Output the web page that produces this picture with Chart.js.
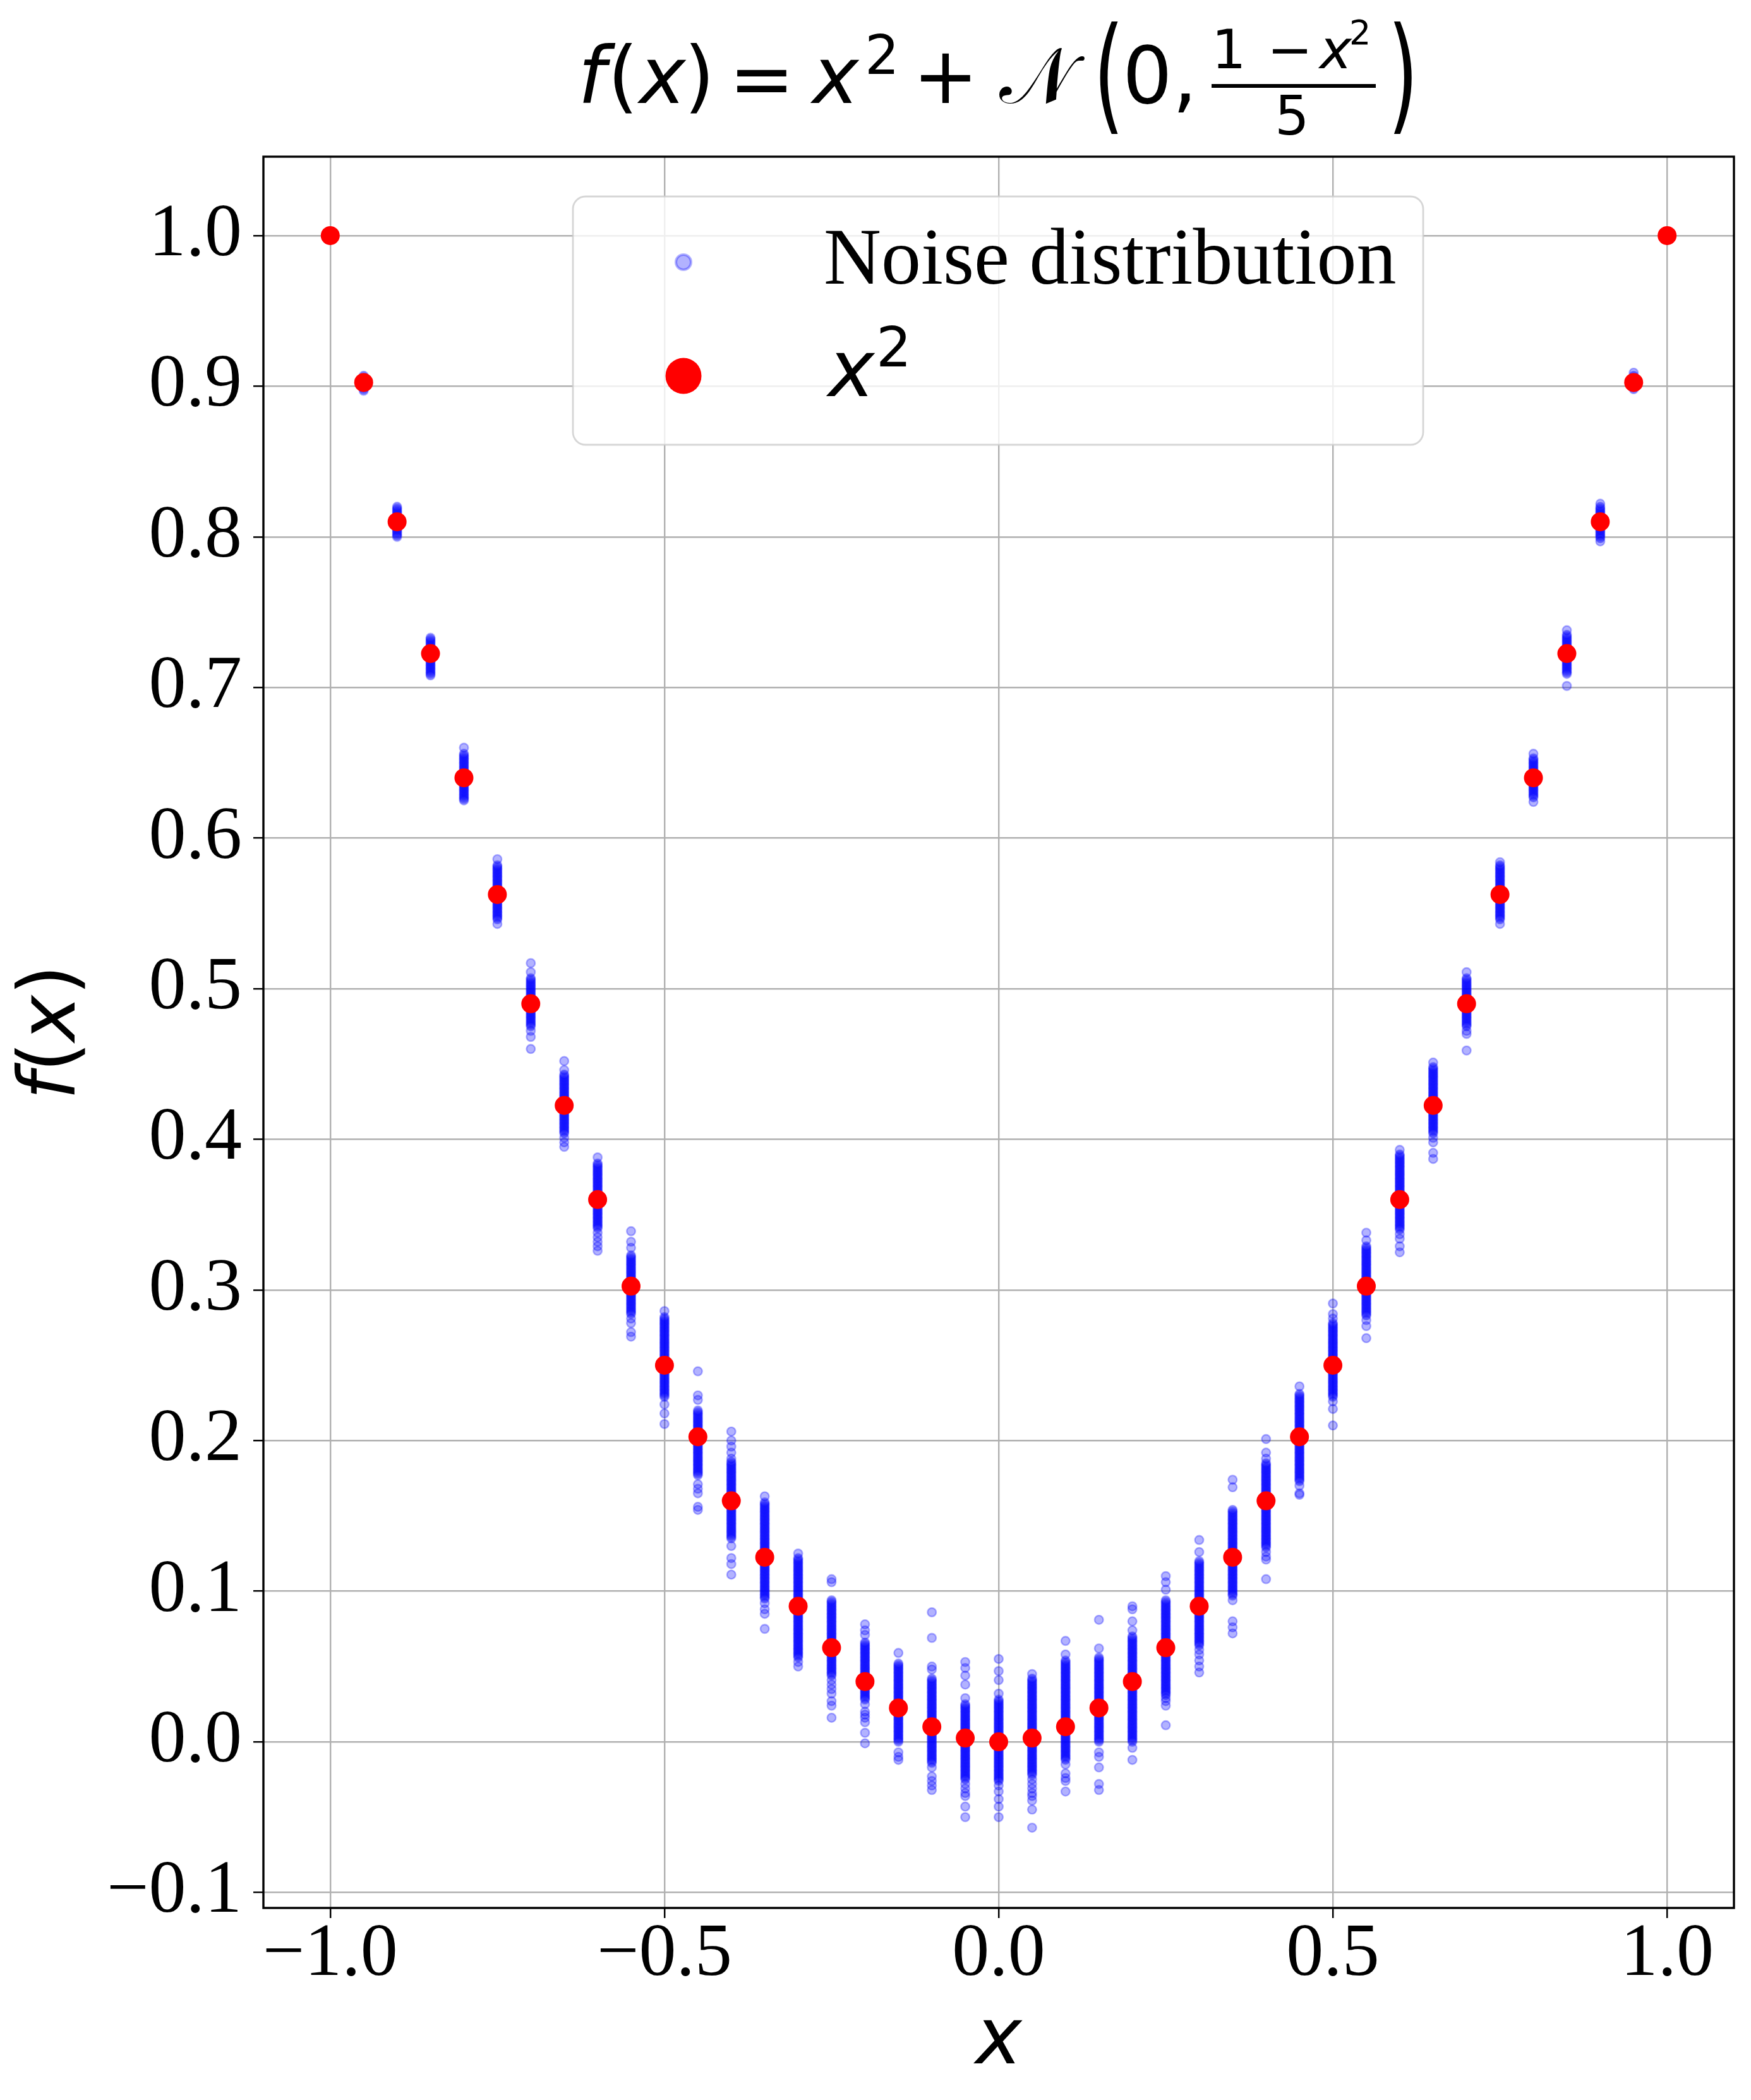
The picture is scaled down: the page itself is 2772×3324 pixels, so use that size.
<!DOCTYPE html>
<html>
<head>
<meta charset="utf-8">
<title>f(x) = x² + N(0, (1 − x²)/5)</title>
<script src="https://cdn.jsdelivr.net/npm/chart.js@4.4.0/dist/chart.umd.min.js"></script>
<style>
  html, body { margin: 0; padding: 0; background: #fff; }
  #wrap { width: 2772px; height: 3324px; }
</style>
</head>
<body>
<div id="wrap"><canvas id="noiseChart" width="2772" height="3324"></canvas></div>
<script>
// ===============================
//  DATA
// ===============================
const xValues = [
    -1.00, -0.95, -0.90, -0.85, -0.80, -0.75, -0.70, -0.65, -0.60, -0.55, -0.50,
    -0.45, -0.40, -0.35, -0.30, -0.25, -0.20, -0.15, -0.10, -0.05, 0.00,
    0.05, 0.10, 0.15, 0.20, 0.25, 0.30, 0.35, 0.40, 0.45, 0.50,
    0.55, 0.60, 0.65, 0.70, 0.75, 0.80, 0.85, 0.90, 0.95, 1.00
];

const xSquared = [
    1.0, 0.9025, 0.81, 0.7225, 0.64, 0.5625, 0.49, 0.4225, 0.36, 0.3025, 0.25,
    0.2025, 0.16, 0.1225, 0.09, 0.0625, 0.04, 0.0225, 0.01, 0.0025, 0.0,
    0.0025, 0.01, 0.0225, 0.04, 0.0625, 0.09, 0.1225, 0.16, 0.2025, 0.25,
    0.3025, 0.36, 0.4225, 0.49, 0.5625, 0.64, 0.7225, 0.81, 0.9025, 1.0
];

// noise samples (same order as xValues)
const noiseByColumn = [
    // -1.00
    [1.0, 1.0, 1.0],
    // -0.95
    [0.907, 0.906, 0.905, 0.904, 0.903, 0.902, 0.901, 0.900, 0.899, 0.898, 0.897],
    // -0.90
    [0.820, 0.819, 0.818, 0.817, 0.816, 0.815, 0.814, 0.813, 0.812, 0.811,
     0.810, 0.809, 0.808, 0.807, 0.806, 0.805, 0.804, 0.803, 0.802, 0.801, 0.800],
    // -0.85
    [0.733, 0.732, 0.731, 0.730, 0.729, 0.728, 0.727, 0.726, 0.725, 0.724,
     0.723, 0.722, 0.721, 0.720, 0.719, 0.718, 0.717, 0.716, 0.715, 0.714,
     0.713, 0.712, 0.711, 0.710, 0.709, 0.708],
    // -0.80
    [0.660, 0.656, 0.655, 0.654, 0.653, 0.652, 0.651, 0.650, 0.649, 0.648,
     0.647, 0.646, 0.645, 0.644, 0.643, 0.642, 0.641, 0.640, 0.639, 0.638,
     0.637, 0.636, 0.635, 0.634, 0.633, 0.632, 0.631, 0.630, 0.629, 0.628,
     0.627, 0.626, 0.625],
    // -0.75
    [0.586, 0.582, 0.581, 0.580, 0.579, 0.578, 0.577, 0.576, 0.575, 0.574,
     0.573, 0.572, 0.571, 0.570, 0.569, 0.568, 0.567, 0.566, 0.565, 0.564,
     0.563, 0.562, 0.561, 0.560, 0.559, 0.558, 0.557, 0.556, 0.555, 0.554,
     0.553, 0.552, 0.551, 0.550, 0.549, 0.548, 0.547, 0.546, 0.543],
    // -0.70
    [0.517, 0.511, 0.507, 0.506, 0.505, 0.504, 0.503, 0.502, 0.501, 0.500,
     0.499, 0.498, 0.497, 0.496, 0.495, 0.494, 0.493, 0.492, 0.491, 0.490,
     0.489, 0.488, 0.487, 0.486, 0.485, 0.484, 0.483, 0.482, 0.481, 0.480,
     0.479, 0.478, 0.477, 0.476, 0.475, 0.472, 0.468, 0.460],
    // -0.65
    [0.452, 0.446, 0.443, 0.442, 0.441, 0.440, 0.439, 0.438, 0.437, 0.436,
     0.435, 0.434, 0.433, 0.432, 0.431, 0.430, 0.429, 0.428, 0.427, 0.426,
     0.425, 0.424, 0.423, 0.422, 0.421, 0.420, 0.419, 0.418, 0.417, 0.416,
     0.415, 0.414, 0.413, 0.412, 0.411, 0.410, 0.409, 0.408, 0.407, 0.406,
     0.405, 0.404, 0.401, 0.398, 0.395],
    // -0.60
    [0.388, 0.384, 0.383, 0.382, 0.381, 0.380, 0.379, 0.378, 0.377, 0.376,
     0.375, 0.374, 0.373, 0.372, 0.371, 0.370, 0.369, 0.368, 0.367, 0.366,
     0.365, 0.364, 0.363, 0.362, 0.361, 0.360, 0.359, 0.358, 0.357, 0.356,
     0.355, 0.354, 0.353, 0.352, 0.351, 0.350, 0.349, 0.348, 0.347, 0.346,
     0.345, 0.344, 0.343, 0.342, 0.341, 0.338, 0.335, 0.332, 0.329, 0.326],
    // -0.55
    [0.339, 0.332, 0.328, 0.323, 0.322, 0.321, 0.320, 0.319, 0.318, 0.317,
     0.316, 0.315, 0.314, 0.313, 0.312, 0.311, 0.310, 0.309, 0.308, 0.307,
     0.306, 0.305, 0.304, 0.303, 0.302, 0.301, 0.300, 0.299, 0.298, 0.297,
     0.296, 0.295, 0.294, 0.293, 0.292, 0.291, 0.290, 0.289, 0.288, 0.287,
     0.286, 0.285, 0.284, 0.281, 0.278, 0.272, 0.269],
    // -0.50
    [0.286, 0.282, 0.281, 0.280, 0.279, 0.278, 0.277, 0.276, 0.275, 0.274,
     0.273, 0.272, 0.271, 0.270, 0.269, 0.268, 0.267, 0.266, 0.265, 0.264,
     0.263, 0.262, 0.261, 0.260, 0.259, 0.258, 0.257, 0.256, 0.255, 0.254,
     0.253, 0.252, 0.251, 0.250, 0.249, 0.248, 0.247, 0.246, 0.245, 0.244,
     0.243, 0.242, 0.241, 0.240, 0.239, 0.238, 0.237, 0.236, 0.235, 0.234,
     0.233, 0.232, 0.231, 0.230, 0.229, 0.224, 0.218, 0.211],
    // -0.45
    [0.246, 0.230, 0.227, 0.220, 0.219, 0.218, 0.217, 0.216, 0.215, 0.214,
     0.213, 0.212, 0.211, 0.210, 0.209, 0.208, 0.207, 0.206, 0.205, 0.204,
     0.203, 0.202, 0.201, 0.200, 0.199, 0.198, 0.197, 0.196, 0.195, 0.194,
     0.193, 0.192, 0.191, 0.190, 0.189, 0.188, 0.187, 0.186, 0.185, 0.184,
     0.183, 0.182, 0.181, 0.180, 0.179, 0.178, 0.177, 0.171, 0.168, 0.165,
     0.156, 0.154],
    // -0.40
    [0.206, 0.200, 0.196, 0.192, 0.188, 0.186, 0.185, 0.184, 0.183, 0.182,
     0.181, 0.180, 0.179, 0.178, 0.177, 0.176, 0.175, 0.174, 0.173, 0.172,
     0.171, 0.170, 0.169, 0.168, 0.167, 0.166, 0.165, 0.164, 0.163, 0.162,
     0.161, 0.160, 0.159, 0.158, 0.157, 0.156, 0.155, 0.154, 0.153, 0.152,
     0.151, 0.150, 0.149, 0.148, 0.147, 0.146, 0.145, 0.144, 0.143, 0.142,
     0.141, 0.140, 0.139, 0.138, 0.137, 0.136, 0.135, 0.130, 0.122, 0.118,
     0.111],
    // -0.35
    [0.163, 0.159, 0.158, 0.157, 0.156, 0.155, 0.154, 0.153, 0.152, 0.151,
     0.150, 0.149, 0.148, 0.147, 0.146, 0.145, 0.144, 0.143, 0.142, 0.141,
     0.140, 0.139, 0.138, 0.137, 0.136, 0.135, 0.134, 0.133, 0.132, 0.131,
     0.130, 0.129, 0.128, 0.127, 0.126, 0.125, 0.124, 0.123, 0.122, 0.121,
     0.120, 0.119, 0.118, 0.117, 0.116, 0.115, 0.114, 0.113, 0.112, 0.111,
     0.110, 0.109, 0.108, 0.107, 0.106, 0.105, 0.104, 0.103, 0.102, 0.101,
     0.100, 0.099, 0.098, 0.097, 0.096, 0.095, 0.092, 0.088, 0.085, 0.075],
    // -0.30
    [0.125, 0.122, 0.121, 0.120, 0.119, 0.118, 0.117, 0.116, 0.115, 0.114,
     0.113, 0.112, 0.111, 0.110, 0.109, 0.108, 0.107, 0.106, 0.105, 0.104,
     0.103, 0.102, 0.101, 0.100, 0.099, 0.098, 0.097, 0.096, 0.095, 0.094,
     0.093, 0.092, 0.091, 0.090, 0.089, 0.088, 0.087, 0.086, 0.085, 0.084,
     0.083, 0.082, 0.081, 0.080, 0.079, 0.078, 0.077, 0.076, 0.075, 0.074,
     0.073, 0.072, 0.071, 0.070, 0.069, 0.068, 0.067, 0.066, 0.065, 0.064,
     0.063, 0.062, 0.061, 0.060, 0.059, 0.058, 0.057, 0.056, 0.053, 0.050],
    // -0.25
    [0.108, 0.106, 0.094, 0.093, 0.092, 0.091, 0.090, 0.089, 0.088, 0.087,
     0.086, 0.085, 0.084, 0.083, 0.082, 0.081, 0.080, 0.079, 0.078, 0.077,
     0.076, 0.075, 0.074, 0.073, 0.072, 0.071, 0.070, 0.069, 0.068, 0.067,
     0.066, 0.065, 0.064, 0.063, 0.062, 0.061, 0.060, 0.059, 0.058, 0.057,
     0.056, 0.055, 0.054, 0.053, 0.052, 0.051, 0.050, 0.049, 0.048, 0.047,
     0.046, 0.045, 0.044, 0.041, 0.038, 0.035, 0.032, 0.027, 0.024, 0.016],
    // -0.20
    [0.078, 0.074, 0.071, 0.066, 0.065, 0.064, 0.063, 0.062, 0.061, 0.060,
     0.059, 0.058, 0.057, 0.056, 0.055, 0.054, 0.053, 0.052, 0.051, 0.050,
     0.049, 0.048, 0.047, 0.046, 0.045, 0.044, 0.043, 0.042, 0.041, 0.040,
     0.039, 0.038, 0.037, 0.036, 0.035, 0.034, 0.033, 0.032, 0.031, 0.030,
     0.029, 0.028, 0.025, 0.020, 0.018, 0.016, 0.013, 0.006, -0.001],
    // -0.15
    [0.059, 0.052, 0.051, 0.050, 0.049, 0.048, 0.047, 0.046, 0.045, 0.044,
     0.043, 0.042, 0.041, 0.040, 0.039, 0.038, 0.037, 0.036, 0.035, 0.034,
     0.033, 0.032, 0.031, 0.030, 0.029, 0.028, 0.027, 0.026, 0.025, 0.024,
     0.023, 0.022, 0.021, 0.020, 0.019, 0.018, 0.017, 0.016, 0.015, 0.014,
     0.013, 0.012, 0.011, 0.010, 0.009, 0.008, 0.007, 0.006, 0.005, 0.004,
     0.003, 0.002, 0.001, 0.000, -0.007, -0.010, -0.012],
    // -0.10
    [0.086, 0.069, 0.050, 0.048, 0.042, 0.041, 0.040, 0.039, 0.038, 0.037,
     0.036, 0.035, 0.034, 0.033, 0.032, 0.031, 0.030, 0.029, 0.028, 0.027,
     0.026, 0.025, 0.024, 0.023, 0.022, 0.021, 0.020, 0.019, 0.018, 0.017,
     0.016, 0.015, 0.014, 0.013, 0.012, 0.011, 0.010, 0.009, 0.008, 0.007,
     0.006, 0.005, 0.004, 0.003, 0.002, 0.001, 0.000, -0.001, -0.002, -0.003,
     -0.004, -0.005, -0.006, -0.007, -0.008, -0.009, -0.010, -0.011, -0.012, -0.013,
     -0.014, -0.017, -0.023, -0.026, -0.029, -0.032],
    // -0.05
    [0.053, 0.049, 0.044, 0.038, 0.029, 0.025, 0.024, 0.023, 0.022, 0.021,
     0.020, 0.019, 0.018, 0.017, 0.016, 0.015, 0.014, 0.013, 0.012, 0.011,
     0.010, 0.009, 0.008, 0.007, 0.006, 0.005, 0.004, 0.003, 0.002, 0.001,
     0.000, -0.001, -0.002, -0.003, -0.004, -0.005, -0.006, -0.007, -0.008, -0.009,
     -0.010, -0.011, -0.012, -0.013, -0.014, -0.015, -0.016, -0.017, -0.018, -0.019,
     -0.020, -0.021, -0.022, -0.023, -0.024, -0.025, -0.028, -0.031, -0.034, -0.036,
     -0.043, -0.050],
    // 0.00
    [0.055, 0.047, 0.041, 0.032, 0.028, 0.027, 0.026, 0.025, 0.024, 0.023,
     0.022, 0.021, 0.020, 0.019, 0.018, 0.017, 0.016, 0.015, 0.014, 0.013,
     0.012, 0.011, 0.010, 0.009, 0.008, 0.007, 0.006, 0.005, 0.004, 0.003,
     0.002, 0.001, 0.000, -0.001, -0.002, -0.003, -0.004, -0.005, -0.006, -0.007,
     -0.008, -0.009, -0.010, -0.011, -0.012, -0.013, -0.014, -0.015, -0.016, -0.017,
     -0.018, -0.019, -0.020, -0.021, -0.022, -0.023, -0.024, -0.025, -0.026, -0.029,
     -0.033, -0.038, -0.043, -0.050],
    // 0.05
    [0.045, 0.042, 0.041, 0.040, 0.039, 0.038, 0.037, 0.036, 0.035, 0.034,
     0.033, 0.032, 0.031, 0.030, 0.029, 0.028, 0.027, 0.026, 0.025, 0.024,
     0.023, 0.022, 0.021, 0.020, 0.019, 0.018, 0.017, 0.016, 0.015, 0.014,
     0.013, 0.012, 0.011, 0.010, 0.009, 0.008, 0.007, 0.006, 0.005, 0.004,
     0.003, 0.002, 0.001, 0.000, -0.001, -0.002, -0.003, -0.004, -0.005, -0.006,
     -0.007, -0.008, -0.009, -0.010, -0.011, -0.012, -0.013, -0.014, -0.015, -0.016,
     -0.017, -0.018, -0.019, -0.020, -0.021, -0.022, -0.025, -0.028, -0.031, -0.034,
     -0.036, -0.039, -0.045, -0.057],
    // 0.10
    [0.067, 0.058, 0.054, 0.053, 0.052, 0.051, 0.050, 0.049, 0.048, 0.047,
     0.046, 0.045, 0.044, 0.043, 0.042, 0.041, 0.040, 0.039, 0.038, 0.037,
     0.036, 0.035, 0.034, 0.033, 0.032, 0.031, 0.030, 0.029, 0.028, 0.027,
     0.026, 0.025, 0.024, 0.023, 0.022, 0.021, 0.020, 0.019, 0.018, 0.017,
     0.016, 0.015, 0.014, 0.013, 0.012, 0.011, 0.010, 0.009, 0.008, 0.007,
     0.006, 0.005, 0.004, 0.003, 0.002, 0.001, 0.000, -0.001, -0.002, -0.003,
     -0.004, -0.005, -0.006, -0.007, -0.008, -0.009, -0.010, -0.011, -0.012, -0.015,
     -0.021, -0.024, -0.026, -0.033],
    // 0.15
    [0.081, 0.062, 0.056, 0.055, 0.054, 0.053, 0.052, 0.051, 0.050, 0.049,
     0.048, 0.047, 0.046, 0.045, 0.044, 0.043, 0.042, 0.041, 0.040, 0.039,
     0.038, 0.037, 0.036, 0.035, 0.034, 0.033, 0.032, 0.031, 0.030, 0.029,
     0.028, 0.027, 0.026, 0.025, 0.024, 0.023, 0.022, 0.021, 0.020, 0.019,
     0.018, 0.017, 0.016, 0.015, 0.014, 0.013, 0.012, 0.011, 0.010, 0.009,
     0.008, 0.007, 0.006, 0.005, 0.004, 0.003, 0.002, 0.001, 0.000, -0.007,
     -0.010, -0.017, -0.028, -0.032],
    // 0.20
    [0.090, 0.088, 0.080, 0.074, 0.070, 0.069, 0.068, 0.067, 0.066, 0.065,
     0.064, 0.063, 0.062, 0.061, 0.060, 0.059, 0.058, 0.057, 0.056, 0.055,
     0.054, 0.053, 0.052, 0.051, 0.050, 0.049, 0.048, 0.047, 0.046, 0.045,
     0.044, 0.043, 0.042, 0.041, 0.040, 0.039, 0.038, 0.037, 0.036, 0.035,
     0.034, 0.033, 0.032, 0.031, 0.030, 0.029, 0.028, 0.027, 0.026, 0.025,
     0.024, 0.023, 0.022, 0.021, 0.020, 0.019, 0.018, 0.017, 0.016, 0.015,
     0.014, 0.013, 0.012, 0.011, 0.010, 0.009, 0.008, 0.007, 0.006, 0.005,
     0.004, 0.003, 0.002, 0.001, 0.000, -0.004, -0.012],
    // 0.25
    [0.110, 0.106, 0.101, 0.094, 0.093, 0.092, 0.091, 0.090, 0.089, 0.088,
     0.087, 0.086, 0.085, 0.084, 0.083, 0.082, 0.081, 0.080, 0.079, 0.078,
     0.077, 0.076, 0.075, 0.074, 0.073, 0.072, 0.071, 0.070, 0.069, 0.068,
     0.067, 0.066, 0.065, 0.064, 0.063, 0.062, 0.061, 0.060, 0.059, 0.058,
     0.057, 0.056, 0.055, 0.054, 0.053, 0.052, 0.051, 0.050, 0.049, 0.048,
     0.047, 0.046, 0.045, 0.044, 0.043, 0.042, 0.041, 0.040, 0.039, 0.038,
     0.037, 0.036, 0.035, 0.034, 0.033, 0.032, 0.031, 0.029, 0.027, 0.024,
     0.011],
    // 0.30
    [0.134, 0.126, 0.120, 0.119, 0.118, 0.117, 0.116, 0.115, 0.114, 0.113,
     0.112, 0.111, 0.110, 0.109, 0.108, 0.107, 0.106, 0.105, 0.104, 0.103,
     0.102, 0.101, 0.100, 0.099, 0.098, 0.097, 0.096, 0.095, 0.094, 0.093,
     0.092, 0.091, 0.090, 0.089, 0.088, 0.087, 0.086, 0.085, 0.084, 0.083,
     0.082, 0.081, 0.080, 0.079, 0.078, 0.077, 0.076, 0.075, 0.074, 0.073,
     0.072, 0.071, 0.070, 0.069, 0.068, 0.067, 0.066, 0.065, 0.064, 0.061,
     0.058, 0.054, 0.050, 0.046],
    // 0.35
    [0.174, 0.169, 0.154, 0.153, 0.152, 0.151, 0.150, 0.149, 0.148, 0.147,
     0.146, 0.145, 0.144, 0.143, 0.142, 0.141, 0.140, 0.139, 0.138, 0.137,
     0.136, 0.135, 0.134, 0.133, 0.132, 0.131, 0.130, 0.129, 0.128, 0.127,
     0.126, 0.125, 0.124, 0.123, 0.122, 0.121, 0.120, 0.119, 0.118, 0.117,
     0.116, 0.115, 0.114, 0.113, 0.112, 0.111, 0.110, 0.109, 0.108, 0.107,
     0.106, 0.105, 0.104, 0.103, 0.102, 0.101, 0.100, 0.099, 0.098, 0.097,
     0.094, 0.080, 0.076, 0.072],
    // 0.40
    [0.201, 0.192, 0.188, 0.185, 0.184, 0.183, 0.182, 0.181, 0.180, 0.179,
     0.178, 0.177, 0.176, 0.175, 0.174, 0.173, 0.172, 0.171, 0.170, 0.169,
     0.168, 0.167, 0.166, 0.165, 0.164, 0.163, 0.162, 0.161, 0.160, 0.159,
     0.158, 0.157, 0.156, 0.155, 0.154, 0.153, 0.152, 0.151, 0.150, 0.149,
     0.148, 0.147, 0.146, 0.145, 0.144, 0.143, 0.142, 0.141, 0.140, 0.139,
     0.138, 0.137, 0.136, 0.135, 0.134, 0.133, 0.132, 0.131, 0.130, 0.129,
     0.126, 0.123, 0.121, 0.108],
    // 0.45
    [0.236, 0.231, 0.230, 0.229, 0.228, 0.227, 0.226, 0.225, 0.224, 0.223,
     0.222, 0.221, 0.220, 0.219, 0.218, 0.217, 0.216, 0.215, 0.214, 0.213,
     0.212, 0.211, 0.210, 0.209, 0.208, 0.207, 0.206, 0.205, 0.204, 0.203,
     0.202, 0.201, 0.200, 0.199, 0.198, 0.197, 0.196, 0.195, 0.194, 0.193,
     0.192, 0.191, 0.190, 0.189, 0.188, 0.187, 0.186, 0.185, 0.184, 0.183,
     0.182, 0.181, 0.180, 0.179, 0.178, 0.177, 0.176, 0.175, 0.174, 0.173,
     0.170, 0.165, 0.164],
    // 0.50
    [0.291, 0.284, 0.281, 0.278, 0.277, 0.276, 0.275, 0.274, 0.273, 0.272,
     0.271, 0.270, 0.269, 0.268, 0.267, 0.266, 0.265, 0.264, 0.263, 0.262,
     0.261, 0.260, 0.259, 0.258, 0.257, 0.256, 0.255, 0.254, 0.253, 0.252,
     0.251, 0.250, 0.249, 0.248, 0.247, 0.246, 0.245, 0.244, 0.243, 0.242,
     0.241, 0.240, 0.239, 0.238, 0.237, 0.236, 0.235, 0.234, 0.233, 0.232,
     0.231, 0.230, 0.229, 0.226, 0.221, 0.210],
    // 0.55
    [0.338, 0.333, 0.329, 0.328, 0.327, 0.326, 0.325, 0.324, 0.323, 0.322,
     0.321, 0.320, 0.319, 0.318, 0.317, 0.316, 0.315, 0.314, 0.313, 0.312,
     0.311, 0.310, 0.309, 0.308, 0.307, 0.306, 0.305, 0.304, 0.303, 0.302,
     0.301, 0.300, 0.299, 0.298, 0.297, 0.296, 0.295, 0.294, 0.293, 0.292,
     0.291, 0.290, 0.289, 0.288, 0.287, 0.286, 0.285, 0.284, 0.283, 0.280,
     0.276, 0.268],
    // 0.60
    [0.393, 0.390, 0.389, 0.388, 0.387, 0.386, 0.385, 0.384, 0.383, 0.382,
     0.381, 0.380, 0.379, 0.378, 0.377, 0.376, 0.375, 0.374, 0.373, 0.372,
     0.371, 0.370, 0.369, 0.368, 0.367, 0.366, 0.365, 0.364, 0.363, 0.362,
     0.361, 0.360, 0.359, 0.358, 0.357, 0.356, 0.355, 0.354, 0.353, 0.352,
     0.351, 0.350, 0.349, 0.348, 0.347, 0.346, 0.345, 0.344, 0.343, 0.342,
     0.341, 0.340, 0.337, 0.334, 0.329, 0.325],
    // 0.65
    [0.451, 0.448, 0.447, 0.446, 0.445, 0.444, 0.443, 0.442, 0.441, 0.440,
     0.439, 0.438, 0.437, 0.436, 0.435, 0.434, 0.433, 0.432, 0.431, 0.430,
     0.429, 0.428, 0.427, 0.426, 0.425, 0.424, 0.423, 0.422, 0.421, 0.420,
     0.419, 0.418, 0.417, 0.416, 0.415, 0.414, 0.413, 0.412, 0.411, 0.410,
     0.409, 0.408, 0.407, 0.406, 0.405, 0.404, 0.401, 0.398, 0.391, 0.387],
    // 0.70
    [0.511, 0.507, 0.506, 0.505, 0.504, 0.503, 0.502, 0.501, 0.500, 0.499,
     0.498, 0.497, 0.496, 0.495, 0.494, 0.493, 0.492, 0.491, 0.490, 0.489,
     0.488, 0.487, 0.486, 0.485, 0.484, 0.483, 0.482, 0.481, 0.480, 0.479,
     0.478, 0.477, 0.476, 0.475, 0.472, 0.470, 0.459],
    // 0.75
    [0.584, 0.582, 0.581, 0.580, 0.579, 0.578, 0.577, 0.576, 0.575, 0.574,
     0.573, 0.572, 0.571, 0.570, 0.569, 0.568, 0.567, 0.566, 0.565, 0.564,
     0.563, 0.562, 0.561, 0.560, 0.559, 0.558, 0.557, 0.556, 0.555, 0.554,
     0.553, 0.552, 0.551, 0.550, 0.549, 0.548, 0.547, 0.546, 0.543],
    // 0.80
    [0.656, 0.653, 0.652, 0.651, 0.650, 0.649, 0.648, 0.647, 0.646, 0.645,
     0.644, 0.643, 0.642, 0.641, 0.640, 0.639, 0.638, 0.637, 0.636, 0.635,
     0.634, 0.633, 0.632, 0.631, 0.630, 0.629, 0.628, 0.627, 0.624],
    // 0.85
    [0.738, 0.735, 0.734, 0.733, 0.732, 0.731, 0.730, 0.729, 0.728, 0.727,
     0.726, 0.725, 0.724, 0.723, 0.722, 0.721, 0.720, 0.719, 0.718, 0.717,
     0.716, 0.715, 0.714, 0.713, 0.712, 0.711, 0.710, 0.709, 0.701],
    // 0.90
    [0.822, 0.820, 0.819, 0.818, 0.817, 0.816, 0.815, 0.814, 0.813, 0.812,
     0.811, 0.810, 0.809, 0.808, 0.807, 0.806, 0.805, 0.804, 0.803, 0.802,
     0.801, 0.800, 0.799, 0.797],
    // 0.95
    [0.909, 0.907, 0.906, 0.905, 0.904, 0.903, 0.902, 0.901, 0.900, 0.899, 0.898],
    // 1.00
    [1.0, 1.0, 1.0]
];

const xTicks = [-1.0, -0.5, 0.0, 0.5, 1.0];
const xTickLabels = ["\u22121.0", "\u22120.5", "0.0", "0.5", "1.0"];
const yTicks = [-0.1, 0.0, 0.1, 0.2, 0.3, 0.4, 0.5, 0.6, 0.7, 0.8, 0.9, 1.0];
const yTickLabels = ["\u22120.1", "0.0", "0.1", "0.2", "0.3", "0.4", "0.5", "0.6", "0.7", "0.8", "0.9", "1.0"];

const legendLabels = ["Noise distribution", "x2"];

// ===============================
//  FONTS / COLOURS
// ===============================
const SERIF = "'Liberation Serif', 'Times New Roman', serif";
const MATH = "'DejaVu Sans', sans-serif";
const NOISE_COLOUR = "rgba(0, 0, 255, 0.3)";
const SQUARE_COLOUR = "#ff0000";

// ===============================
//  TEXT HELPERS
// ===============================
function inkText(ctx, text, font, inkLeft, baseline) {
    ctx.font = font;
    const m = ctx.measureText(text);
    ctx.fillText(text, inkLeft + m.actualBoundingBoxLeft, baseline);
}

function tallParen(ctx, ch, inkLeft, top, bottom) {
    ctx.font = "124px " + MATH;
    const m = ctx.measureText(ch);
    const s = (bottom - top) / (m.actualBoundingBoxAscent + m.actualBoundingBoxDescent);
    ctx.save();
    ctx.translate(inkLeft + m.actualBoundingBoxLeft, top + m.actualBoundingBoxAscent * s);
    ctx.scale(1, s);
    ctx.fillText(ch, 0, 0);
    ctx.restore();
}

function drawTitle(ctx) {
    const it = "italic 124px " + MATH;
    const up = "124px " + MATH;
    const sm = "86px " + MATH;
    const smIt = "italic 86px " + MATH;
    const base = 163;

    inkText(ctx, "f", it, 923, base);
    inkText(ctx, "(", up, 972, base);
    inkText(ctx, "x", it, 1008, base);
    inkText(ctx, ")", up, 1092, base);
    inkText(ctx, "=", up, 1167, base + 4);
    inkText(ctx, "x", it, 1282, base);
    inkText(ctx, "2", sm, 1375, 117);
    inkText(ctx, "+", up, 1458, base);
    inkText(ctx, "\u{1D4A9}", up, 1582, base);
    tallParen(ctx, "(", 1741, 32, 213);
    inkText(ctx, "0", up, 1785, base);
    inkText(ctx, ",", up, 1865, base);

    // fraction (1 - x^2) / 5
    inkText(ctx, "1", sm, 1927, 108);
    inkText(ctx, "\u2212", sm, 2015, 108);
    inkText(ctx, "x", smIt, 2086, 108);
    inkText(ctx, "2", "54px " + MATH, 2139, 70);
    ctx.fillRect(1918, 133, 260, 6);
    inkText(ctx, "5", sm, 2024, 213);
    tallParen(ctx, ")", 2206, 32, 213);
}

function drawAxisLabels(ctx, area) {
    // x label
    ctx.font = "italic 124px " + MATH;
    ctx.textAlign = "center";
    ctx.fillText("x", (area.left + area.right) / 2, 3266);
    ctx.textAlign = "left";

    // y label, rotated
    const parts = [["f", "italic 124px " + MATH], ["(", "124px " + MATH], ["x", "italic 124px " + MATH], [")", "124px " + MATH]];
    let total = 0;
    parts.forEach(p => { ctx.font = p[1]; total += ctx.measureText(p[0]).width; });
    ctx.save();
    ctx.translate(118, (area.top + area.bottom) / 2);
    ctx.rotate(-Math.PI / 2);
    let cx = -total / 2;
    parts.forEach(p => {
        ctx.font = p[1];
        ctx.fillText(p[0], cx, 0);
        cx += ctx.measureText(p[0]).width;
    });
    ctx.restore();
}

function roundRectPath(ctx, x, y, w, h, r) {
    ctx.beginPath();
    ctx.moveTo(x + r, y);
    ctx.arcTo(x + w, y, x + w, y + h, r);
    ctx.arcTo(x + w, y + h, x, y + h, r);
    ctx.arcTo(x, y + h, x, y, r);
    ctx.arcTo(x, y, x + w, y, r);
    ctx.closePath();
}

function drawLegend(ctx) {
    roundRectPath(ctx, 907, 311, 1346, 393, 20);
    ctx.fillStyle = "rgba(255, 255, 255, 0.8)";
    ctx.fill();
    ctx.lineWidth = 2.8;
    ctx.strokeStyle = "rgba(204, 204, 204, 0.8)";
    ctx.stroke();

    // noise marker
    ctx.beginPath();
    ctx.arc(1082, 415, 12, 0, Math.PI * 2);
    ctx.fillStyle = NOISE_COLOUR;
    ctx.fill();
    ctx.lineWidth = 4;
    ctx.strokeStyle = NOISE_COLOUR;
    ctx.stroke();

    // x^2 marker
    ctx.beginPath();
    ctx.arc(1082, 595, 28.5, 0, Math.PI * 2);
    ctx.fillStyle = SQUARE_COLOUR;
    ctx.fill();

    ctx.fillStyle = "#000";
    inkText(ctx, legendLabels[0], "126px " + SERIF, 1307, 449);
    inkText(ctx, "x", "italic 124px " + MATH, 1307, 627);
    inkText(ctx, "2", "88px " + MATH, 1393, 580);
}

const figureDecor = {
    id: "figureDecor",
    afterDraw(chart) {
        const ctx = chart.ctx;
        const a = chart.chartArea;
        ctx.save();
        ctx.strokeStyle = "#000";
        ctx.lineWidth = 3.4;
        ctx.strokeRect(a.left, a.top, a.right - a.left, a.bottom - a.top);
        ctx.fillStyle = "#000";
        ctx.textAlign = "left";
        ctx.textBaseline = "alphabetic";
        drawTitle(ctx);
        drawAxisLabels(ctx, a);
        drawLegend(ctx);
        ctx.restore();
    }
};

// ===============================
//  BUILD POINTS
// ===============================
const noisePoints = [];
noiseByColumn.forEach((col, i) => {
    col.forEach(y => noisePoints.push({ x: xValues[i], y }));
});
const squarePoints = xValues.map((x, i) => ({ x, y: xSquared[i] }));

// ===============================
//  CHART
// ===============================
new Chart(document.getElementById("noiseChart"), {
    type: "scatter",
    data: {
        datasets: [
            {
                label: legendLabels[1],
                data: squarePoints,
                order: 0,
                pointRadius: 15,
                pointHoverRadius: 15,
                pointBackgroundColor: SQUARE_COLOUR,
                pointBorderWidth: 0
            },
            {
                label: legendLabels[0],
                data: noisePoints,
                order: 1,
                pointRadius: 6.8,
                pointHoverRadius: 6.8,
                pointBackgroundColor: NOISE_COLOUR,
                pointBorderColor: NOISE_COLOUR,
                pointBorderWidth: 2.4
            }
        ]
    },
    options: {
        responsive: false,
        devicePixelRatio: 1,
        animation: false,
        events: [],
        layout: { padding: { top: 248, right: 27, bottom: 0, left: 0 } },
        plugins: {
            legend: { display: false },
            tooltip: { enabled: false },
            title: { display: false }
        },
        scales: {
            x: {
                type: "linear",
                min: -1.1,
                max: 1.1,
                afterBuildTicks: s => { s.ticks = xTicks.map(v => ({ value: v })); },
                afterFit: s => { s.height = 304; },
                ticks: {
                    callback: (v, i) => xTickLabels[i],
                    font: { family: SERIF, size: 118, lineHeight: 1 },
                    color: "#000",
                    padding: 0,
                    maxRotation: 0,
                    autoSkip: false
                },
                grid: { color: "#b0b0b0", lineWidth: 2.4, tickColor: "#000", tickLength: 16, tickWidth: 2.5 },
                border: { display: false }
            },
            y: {
                type: "linear",
                min: -0.1103,
                max: 1.0524,
                afterBuildTicks: s => { s.ticks = yTicks.map(v => ({ value: v })); },
                afterFit: s => { s.width = 417; },
                ticks: {
                    callback: (v, i) => yTickLabels[i],
                    font: { family: SERIF, size: 118, lineHeight: 1 },
                    color: "#000",
                    padding: 18,
                    autoSkip: false
                },
                grid: { color: "#b0b0b0", lineWidth: 2.4, tickColor: "#000", tickLength: 16, tickWidth: 2.5 },
                border: { display: false }
            }
        }
    },
    plugins: [figureDecor]
});
</script>
</body>
</html>
